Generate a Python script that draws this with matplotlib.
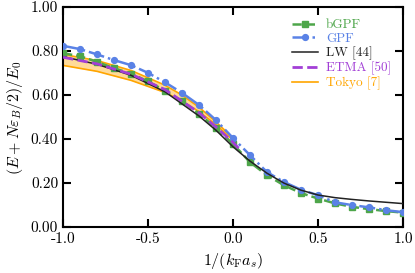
import numpy as np
import matplotlib

matplotlib.use("Agg")
import matplotlib.pyplot as plt

plt.rcParams["mathtext.fontset"] = "cm"
plt.rcParams["font.family"] = "serif"
plt.rcParams["font.serif"] = ["cmr10", "DejaVu Serif"]
plt.rcParams["axes.formatter.use_mathtext"] = True

# data
x_gpf = [-1.0, -0.9, -0.8, -0.7, -0.6, -0.5, -0.4, -0.3, -0.2, -0.1, 0.0,
         0.1, 0.2, 0.3, 0.4, 0.5, 0.6, 0.7, 0.8, 0.9, 1.0]
gpf = [0.824, 0.809, 0.785, 0.759, 0.736, 0.701, 0.658, 0.610, 0.555, 0.486, 0.405,
       0.327, 0.250, 0.205, 0.170, 0.145, 0.113, 0.100, 0.090, 0.077, 0.068]
bgpf = [0.790, 0.777, 0.751, 0.722, 0.698, 0.662, 0.620, 0.572, 0.515, 0.450, 0.378,
        0.295, 0.236, 0.190, 0.155, 0.130, 0.108, 0.092, 0.082, 0.073, 0.066]

x_lw = [-1.0, -0.8, -0.6, -0.4, -0.2, -0.1, 0.0, 0.1, 0.2, 0.3, 0.4, 0.5, 0.6, 0.7, 0.8, 0.9, 1.0]
lw = [0.775, 0.740, 0.690, 0.615, 0.505, 0.440, 0.365, 0.300, 0.245, 0.200, 0.168, 0.146,
      0.134, 0.126, 0.119, 0.113, 0.107]

x_etma = [-1.0, -0.8, -0.6, -0.4, -0.2, -0.1, 0.0, 0.05]
etma = [0.772, 0.742, 0.695, 0.625, 0.520, 0.455, 0.385, 0.345]

x_tokyo = [-1.0, -0.8, -0.6, -0.4, -0.3, -0.2, -0.1, 0.0]
tokyo_hi = [0.785, 0.757, 0.712, 0.645, 0.600, 0.545, 0.478, 0.405]
tokyo_lo = [0.735, 0.708, 0.667, 0.612, 0.573, 0.525, 0.465, 0.395]

c_green = "#4ea64a"
c_blue = "#5a82e6"
c_purple = "#a23fd6"
c_orange = "#ffa500"

fig, ax = plt.subplots(figsize=(4.15, 2.73), dpi=100)

ax.fill_between(x_tokyo, tokyo_lo, tokyo_hi, color=c_orange, alpha=0.4, lw=0, zorder=1)
ax.plot(x_tokyo, tokyo_hi, color=c_orange, lw=1.2, zorder=1)
ax.plot(x_tokyo, tokyo_lo, color=c_orange, lw=1.2, zorder=1)

ax.plot(x_gpf, bgpf, color=c_green, ls="--", lw=1.8, marker="s", ms=3.8, label="bGPF", zorder=3)
ax.plot(x_gpf, gpf, color=c_blue, ls="-.", lw=1.8, marker="o", ms=4.2, label="GPF", zorder=3)
ax.plot(x_lw, lw, color="#222222", lw=1.1, label="LW [44]", zorder=4)
ax.plot(x_etma, etma, color=c_purple, ls="--", lw=2, label="ETMA [50]", zorder=5)
ax.plot([], [], color=c_orange, lw=1.2, label="Tokyo [7]")

ax.set_xlim(-1, 1)
ax.set_ylim(0, 1)
ax.set_xticks([-1.0, -0.5, 0.0, 0.5, 1.0])
ax.set_yticks([0.0, 0.2, 0.4, 0.6, 0.8, 1.0])
ax.xaxis.set_major_formatter(matplotlib.ticker.FormatStrFormatter("%.1f"))
ax.yaxis.set_major_formatter(matplotlib.ticker.FormatStrFormatter("%.2f"))
ax.tick_params(direction="in", top=True, right=True, length=6, width=1.5, labelsize=11)
for s in ax.spines.values():
    s.set_linewidth(1.5)

ax.set_xlabel(r"$1/(k_{\rm F}a_s)$", fontsize=11.5)
ax.set_ylabel(r"$(E+N\varepsilon_B/2)/E_0$", fontsize=11.5)

leg = ax.legend(loc="upper right", frameon=False, fontsize=9.5, handlelength=2.0,
                handletextpad=0.6, labelspacing=0.12, borderaxespad=0.5)
for text, line in zip(leg.get_texts(), leg.get_lines()):
    text.set_color(line.get_color())

fig.subplots_adjust(left=0.152, right=0.971, top=0.974, bottom=0.168)
fig.savefig("out.png", dpi=100)
